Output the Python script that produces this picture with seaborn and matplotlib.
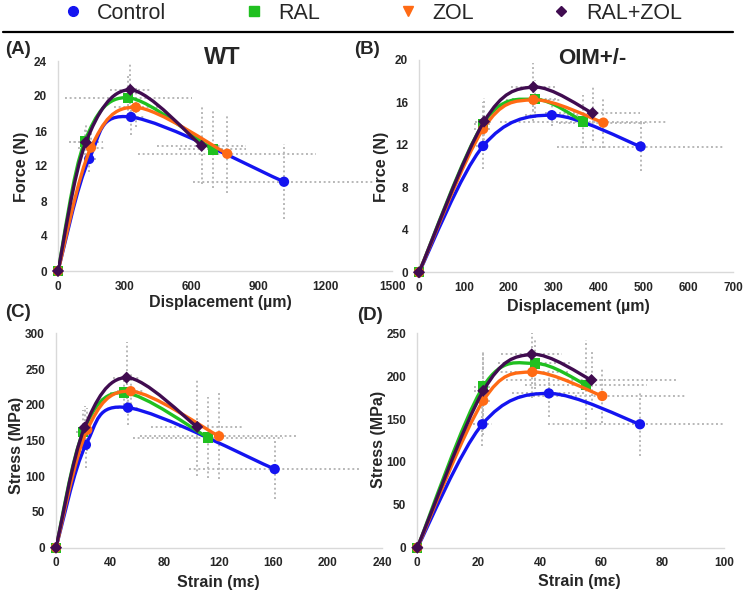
import numpy as np
import pandas as pd
import seaborn as sns
import matplotlib
matplotlib.use("Agg")
import matplotlib.pyplot as plt
from matplotlib.path import Path
from matplotlib.patches import PathPatch
from matplotlib.lines import Line2D

groups = ["Control", "RAL", "ZOL", "RAL+ZOL"]
colors = {"Control": "#1414f0", "RAL": "#20c020", "ZOL": "#ff6a14", "RAL+ZOL": "#400c50"}
plot_markers = {"Control": "o", "RAL": "s", "ZOL": "o", "RAL+ZOL": "D"}
legend_markers = {"Control": "o", "RAL": "s", "ZOL": "v", "RAL+ZOL": "D"}

# (A) WT, force vs displacement
wt_disp = {"Control": [0, 140, 328, 1015], "RAL": [0, 120, 315, 695],
           "ZOL": [0, 148, 350, 760], "RAL+ZOL": [0, 125, 325, 645]}
wt_force = {"Control": [0, 12.8, 17.6, 10.2], "RAL": [0, 14.8, 19.8, 13.9],
            "ZOL": [0, 14.1, 18.7, 13.4], "RAL+ZOL": [0, 14.7, 20.7, 14.3]}
wt_disp_err = {"Control": [0, 40, 60, 410], "RAL": [0, 70, 285, 150],
               "ZOL": [0, 60, 100, 400], "RAL+ZOL": [0, 75, 90, 200]}
wt_force_err = {"Control": [0, 1.5, 2.0, 4.3], "RAL": [0, 1.5, 2.5, 4.4],
                "ZOL": [0, 1.8, 2.2, 4.5], "RAL+ZOL": [0, 2.0, 3.2, 4.4]}

# (B) OIM+/-, force vs displacement
oim_disp = {"Control": [0, 143, 296, 494], "RAL": [0, 143, 258, 366],
            "ZOL": [0, 143, 255, 411], "RAL+ZOL": [0, 145, 255, 387]}
oim_force = {"Control": [0, 11.9, 14.8, 11.85], "RAL": [0, 14.0, 16.3, 14.2],
             "ZOL": [0, 13.5, 16.25, 14.1], "RAL+ZOL": [0, 14.2, 17.45, 15.0]}
oim_disp_err = {"Control": [0, 15, 60, 186], "RAL": [0, 20, 50, 185],
                "ZOL": [0, 20, 60, 100], "RAL+ZOL": [0, 20, 50, 105]}
oim_force_err = {"Control": [0, 2.2, 1.0, 2.35], "RAL": [0, 2.0, 1.8, 2.5],
                 "ZOL": [0, 2.0, 2.0, 2.4], "RAL+ZOL": [0, 2.2, 2.3, 2.6]}

# (C) WT, stress vs strain
wt_strain = {"Control": [0, 22, 53, 161], "RAL": [0, 20, 50, 112],
             "ZOL": [0, 23, 55, 120], "RAL+ZOL": [0, 21, 52, 104]}
wt_stress = {"Control": [0, 144, 196, 110], "RAL": [0, 162, 217, 154],
             "ZOL": [0, 165, 219, 156], "RAL+ZOL": [0, 168, 238, 169]}
wt_strain_err = {"Control": [0, 4, 8, 63], "RAL": [0, 5, 10, 55],
                 "ZOL": [0, 5, 10, 58], "RAL+ZOL": [0, 5, 10, 34]}
wt_stress_err = {"Control": [0, 33, 25, 42], "RAL": [0, 30, 25, 57],
                 "ZOL": [0, 30, 25, 60], "RAL+ZOL": [0, 30, 50, 69]}

# (D) OIM+/-, stress vs strain
oim_strain = {"Control": [0, 21.2, 42.9, 72.6], "RAL": [0, 21.5, 38.4, 55],
              "ZOL": [0, 21.5, 37.5, 60.3], "RAL+ZOL": [0, 21.5, 37.3, 56.8]}
oim_stress = {"Control": [0, 144, 180, 144], "RAL": [0, 188, 215, 190],
              "ZOL": [0, 171.5, 205, 177], "RAL+ZOL": [0, 183, 225.5, 195.6]}
oim_strain_err = {"Control": [0, 3, 12, 30], "RAL": [0, 3, 12, 20],
                  "ZOL": [0, 3, 12, 27], "RAL+ZOL": [0, 3, 10, 28]}
oim_stress_err = {"Control": [0, 25, 27, 37], "RAL": [0, 40, 30, 52],
                  "ZOL": [0, 40, 30, 32], "RAL+ZOL": [0, 45, 25, 35]}

W, H = 750, 594


def fx(px):
    return px / W


def fy(py):
    return 1 - py / H


def smooth_path(xs, ys):
    # Excel-like smoothed line: cubic Bezier through the points
    pts = np.column_stack([xs, ys]).astype(float)
    n = len(pts)
    verts = [pts[0]]
    codes = [Path.MOVETO]
    for i in range(n - 1):
        p0 = pts[i - 1] if i > 0 else pts[i]
        p1, p2 = pts[i], pts[i + 1]
        p3 = pts[i + 2] if i + 2 < n else pts[i + 1]
        verts += [p1 + (p2 - p0) / 6, p2 - (p3 - p1) / 6, p2]
        codes += [Path.CURVE4] * 3
    return Path(verts, codes)


def draw_panel(ax, xd, yd, xe, ye, xlim, xstep, ylim, ystep, xlabel, ylabel, xlc, ylc):
    for g in groups:
        eb = ax.errorbar(xd[g], yd[g], xerr=xe[g], yerr=ye[g], fmt="none",
                         ecolor="#b8b8b8", elinewidth=1.4, capsize=0, zorder=1)
        for lc in eb.lines[2]:
            lc.set_linestyle((0, (1, 1.4)))
    for k, g in enumerate(groups):
        ax.add_patch(PathPatch(smooth_path(xd[g], yd[g]), fill=False, edgecolor=colors[g],
                               lw=2.4, capstyle="round", zorder=2 + 2 * k))
        df = pd.DataFrame({"x": xd[g], "y": yd[g]})
        sns.scatterplot(data=df, x="x", y="y", ax=ax, color=colors[g], marker=plot_markers[g],
                        s=55 if g != "RAL+ZOL" else 38, edgecolor="none", legend=False,
                        zorder=3 + 2 * k, clip_on=False)
    ax.set_xlim(*xlim)
    ax.set_ylim(*ylim)
    ax.set_xticks(np.arange(xlim[0], xlim[1] + xstep / 2, xstep))
    ax.set_yticks(np.arange(ylim[0], ylim[1] + ystep / 2, ystep))
    ax.tick_params(length=0, labelsize=8.5, pad=7)
    ax.tick_params(axis="y", pad=8)
    for lbl in ax.get_xticklabels() + ax.get_yticklabels():
        lbl.set_fontweight("bold")
    ax.set_xlabel(xlabel, fontsize=11.5, fontweight="bold", va="center")
    ax.set_ylabel(ylabel, fontsize=11.5, fontweight="bold", va="center")
    ax.xaxis.set_label_coords(*xlc)
    ax.yaxis.set_label_coords(*ylc)
    sns.despine(ax=ax)
    for s in ("left", "bottom"):
        ax.spines[s].set_color("#d9d9d9")
        ax.spines[s].set_linewidth(1.0)
    ax.grid(False)


sns.set_theme(style="white")
plt.rcParams["font.family"] = ["Liberation Sans", "DejaVu Sans"]

fig = plt.figure(figsize=(7.5, 5.94), dpi=100)
fig.patch.set_facecolor("white")

axA = fig.add_axes([fx(58), fy(271), 334 / W, 210 / H])
axB = fig.add_axes([fx(419), fy(272.3), 314 / W, 212.3 / H])
axC = fig.add_axes([fx(56), fy(547.7), 326 / W, 214.4 / H])
axD = fig.add_axes([fx(417.3), fy(547.7), 306.7 / W, 214.3 / H])

draw_panel(axA, wt_disp, wt_force, wt_disp_err, wt_force_err, (0, 1500), 300, (0, 24), 4,
           "Displacement (µm)", "Force (N)", (0.485, -0.152), (-0.108, 0.495))
draw_panel(axB, oim_disp, oim_force, oim_disp_err, oim_force_err, (0, 700), 100, (0, 20), 4,
           "Displacement (µm)", "Force (N)", (0.506, -0.159), (-0.118, 0.496))
draw_panel(axC, wt_strain, wt_stress, wt_strain_err, wt_stress_err, (0, 240), 40, (0, 300), 50,
           "Strain (mε)", "Stress (MPa)", (0.497, -0.160), (-0.120, 0.479))
draw_panel(axD, oim_strain, oim_stress, oim_strain_err, oim_stress_err, (0, 100), 20, (0, 250), 50,
           "Strain (mε)", "Stress (MPa)", (0.527, -0.160), (-0.125, 0.503))

# titles and panel letters
fig.text(fx(222), fy(58), "WT", fontsize=17, fontweight="bold", ha="center", va="center")
fig.text(fx(592), fy(59), "OIM+/-", fontsize=16, fontweight="bold", ha="center", va="center")
for lab, (px, py) in {"(A)": (18, 49), "(B)": (367, 49), "(C)": (18, 312), "(D)": (370, 315)}.items():
    fig.text(fx(px), fy(py), lab, fontsize=13.5, fontweight="bold", ha="center", va="center")

# legend and separator line
handles = [Line2D([], [], ls="none", marker=legend_markers[g], color=colors[g],
                  markersize=7 if g != "RAL+ZOL" else 5.5) for g in groups]
fig.legend(handles, groups, loc="center left", bbox_to_anchor=(fx(64), fy(13.5)), ncol=4,
           frameon=False, fontsize=15.5, handlelength=0.8, handletextpad=0.75,
           columnspacing=3.65, borderpad=0, borderaxespad=0)
fig.add_artist(Line2D([fx(3), fx(733)], [fy(31.5), fy(31.5)], color="black", lw=1.6))

fig.savefig("out.png", dpi=100, facecolor="white")
